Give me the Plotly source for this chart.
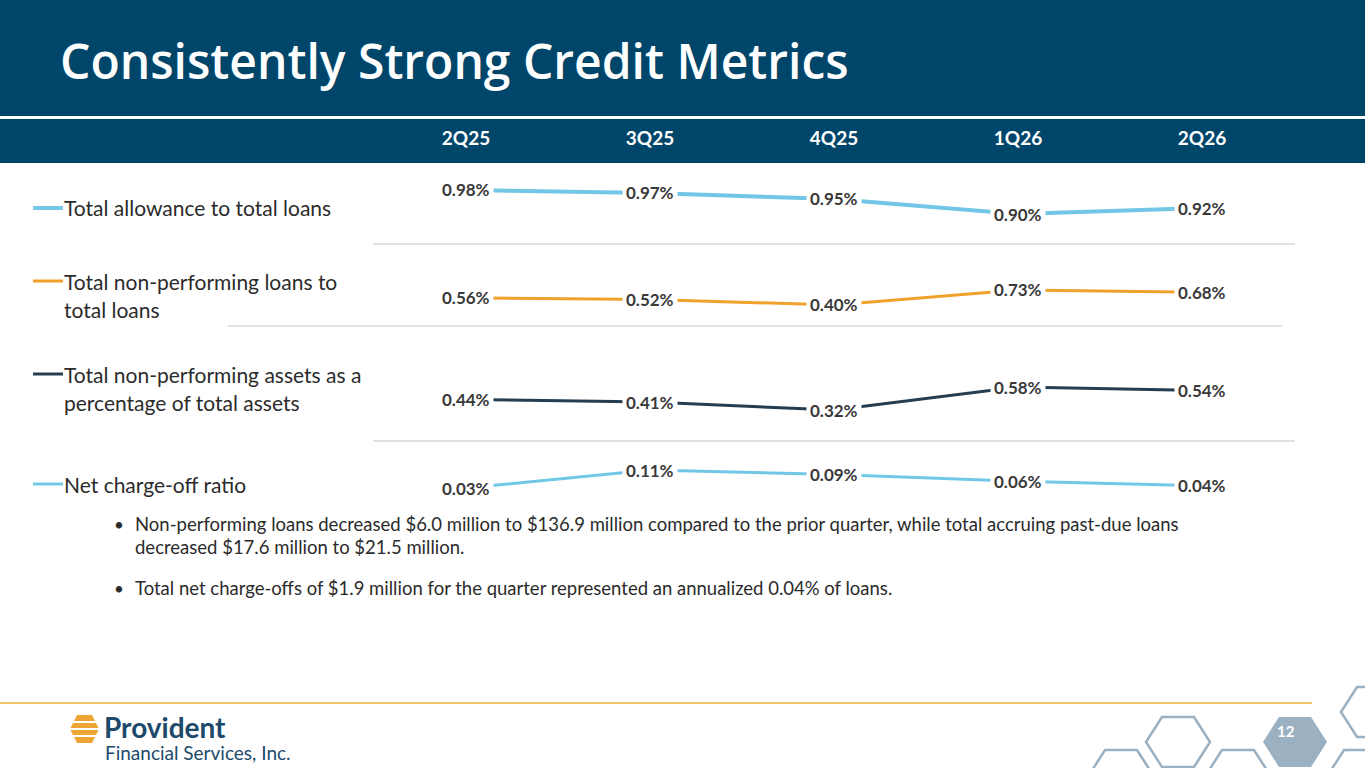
import plotly.graph_objects as go

W, H = 1365, 768

quarters = ["2Q25", "3Q25", "4Q25", "1Q26", "2Q26"]

allowance_ratio = [0.98, 0.97, 0.95, 0.90, 0.92]
npl_ratio = [0.56, 0.52, 0.40, 0.73, 0.68]
npa_ratio = [0.44, 0.41, 0.32, 0.58, 0.54]
nco_ratio = [0.03, 0.11, 0.09, 0.06, 0.04]

legend_lines = [
    ["Total allowance to total loans"],
    ["Total non-performing loans to", "total loans"],
    ["Total non-performing assets as a", "percentage of total assets"],
    ["Net charge-off ratio"],
]

bullets = [
    ["Non-performing loans decreased $6.0 million to $136.9 million compared to the prior quarter, while total accruing past-due loans",
     "decreased $17.6 million to $21.5 million."],
    ["Total net charge-offs of $1.9 million for the quarter represented an annualized 0.04% of loans."],
]

NAVY = "#00466b"
LIGHT_BLUE = "#72c7e7"
ORANGE = "#f0a12c"
DARK = "#243d50"
TEXT = "#2b2b2b"
HEX = "#9bb0c1"
FONT = "Lato"


def px(x):
    return x / W


def py(y):
    return 1 - y / H


# (values, colour, line width, band top px, band bottom px, y range, legend y px)
series = [
    (allowance_ratio, LIGHT_BLUE, 4, 165, 244, [0.80, 1.0633], 208),
    (npl_ratio, ORANGE, 3, 244, 326, [-0.062, 1.742], 281),
    (npa_ratio, DARK, 3, 326, 441, [-0.030, 1.269], 374),
    (nco_ratio, LIGHT_BLUE, 3, 441, 505, [-0.0456, 0.239], 484),
]

fig = go.Figure()
layout = {}
annotations = []
shapes = []

for i, (vals, color, lw, top, bottom, rng, ly) in enumerate(series):
    yname = "y" if i == 0 else f"y{i + 1}"
    fig.add_trace(go.Scatter(
        x=quarters, y=vals, xaxis="x", yaxis=yname, mode="lines",
        line=dict(color=color, width=lw), hoverinfo="skip",
    ))
    layout["yaxis" if i == 0 else f"yaxis{i + 1}"] = dict(
        domain=[py(bottom), py(top)], range=rng, visible=False,
        anchor="x", fixedrange=True,
    )
    for q, v in zip(quarters, vals):
        annotations.append(dict(
            x=q, y=v, xref="x", yref=yname, text=f"<b>{v:.2f}%</b>",
            showarrow=False, bgcolor="white", borderpad=3,
            font=dict(family=FONT, size=17, color="#3a3a3a"),
        ))
    # legend swatch + text
    shapes.append(dict(type="line", xref="paper", yref="paper",
                       x0=px(33), x1=px(63), y0=py(ly), y1=py(ly),
                       line=dict(color=color, width=lw)))
    for k, t in enumerate(legend_lines[i]):
        annotations.append(dict(
            x=px(62), y=py(ly + 28 * k), xref="paper", yref="paper",
            text=t, showarrow=False, xanchor="left", yanchor="middle",
            font=dict(family=FONT, size=21, color=TEXT),
        ))

# separators between rows
for y0, xa, xb in [(244, 373, 1295), (326, 228, 1282), (441, 373, 1295)]:
    shapes.append(dict(type="line", xref="paper", yref="paper",
                       x0=px(xa), x1=px(xb), y0=py(y0), y1=py(y0),
                       line=dict(color="#d9d9d9", width=1.5)))

# header bands
shapes.append(dict(type="rect", xref="paper", yref="paper", x0=0, x1=1,
                   y0=py(116), y1=1, fillcolor=NAVY, line_width=0, layer="below"))
shapes.append(dict(type="rect", xref="paper", yref="paper", x0=0, x1=1,
                   y0=py(163), y1=py(119), fillcolor=NAVY, line_width=0, layer="below"))

annotations.append(dict(
    x=px(58), y=py(60), xref="paper", yref="paper",
    text="Consistently Strong Credit Metrics", showarrow=False,
    xanchor="left", yanchor="middle",
    font=dict(family="Open Sans", size=48, color="white", weight=600),
))

# bullets
by = 524
for group in bullets:
    annotations.append(dict(x=px(112), y=py(by), xref="paper", yref="paper",
                            text="•", showarrow=False, xanchor="left", yanchor="middle",
                            font=dict(family=FONT, size=17, color=TEXT)))
    for k, line in enumerate(group):
        annotations.append(dict(x=px(133), y=py(by + 23 * k), xref="paper", yref="paper",
                                text=line, showarrow=False, xanchor="left", yanchor="middle",
                                font=dict(family=FONT, size=18.5, color=TEXT)))
    by += 23 * len(group) + 18

# footer rule
shapes.append(dict(type="line", xref="paper", yref="paper", x0=0, x1=px(1312),
                   y0=py(703), y1=py(703), line=dict(color="#f0c36c", width=2)))

# logo icon
shapes.append(dict(type="path", xref="paper", yref="paper",
                   path=" ".join([
                       f"M {px(70)} {py(729)}", f"L {px(77)} {py(715)}", f"L {px(92)} {py(715)}",
                       f"L {px(99)} {py(729)}", f"L {px(92)} {py(743)}", f"L {px(77)} {py(743)} Z"]),
                   fillcolor="#eea534", line_width=0))
for yy in (722, 729, 736):
    shapes.append(dict(type="line", xref="paper", yref="paper", x0=px(68), x1=px(101),
                       y0=py(yy), y1=py(yy), line=dict(color="white", width=2)))
annotations.append(dict(x=px(102), y=py(727), xref="paper", yref="paper", text="<b>Provident</b>",
                        showarrow=False, xanchor="left", yanchor="middle",
                        font=dict(family=FONT, size=28, color="#1d4a6b")))
annotations.append(dict(x=px(103), y=py(752), xref="paper", yref="paper",
                        text="Financial Services, Inc.", showarrow=False,
                        xanchor="left", yanchor="middle",
                        font=dict(family=FONT, size=19, color="#1d4a6b")))


# honeycomb decoration
def hexagon(cx, cy, r=32, h=25, filled=False):
    pts = [(cx - r, cy), (cx - r / 2, cy - h), (cx + r / 2, cy - h),
           (cx + r, cy), (cx + r / 2, cy + h), (cx - r / 2, cy + h)]
    path = "M " + " L ".join(f"{px(a)} {py(b)}" for a, b in pts) + " Z"
    return dict(type="path", xref="paper", yref="paper", path=path,
                fillcolor=HEX if filled else "rgba(0,0,0,0)",
                line=dict(color=HEX, width=0 if filled else 2.5))


for cx, cy in [(1373, 712), (1178, 742), (1121, 775), (1238, 775), (1360, 775)]:
    shapes.append(hexagon(cx, cy))
shapes.append(hexagon(1295, 742, filled=True))
annotations.append(dict(x=px(1297), y=py(742), xref="paper", yref="paper", text="<b>12</b>",
                        showarrow=False, font=dict(family=FONT, size=15, color="white")))

fig.update_layout(
    width=W, height=H, margin=dict(l=0, r=0, t=0, b=0),
    paper_bgcolor="white", plot_bgcolor="white", showlegend=False,
    xaxis=dict(type="category", domain=[px(374), px(1294)], range=[-0.5, 4.5],
               anchor="free", position=py(149), side="top", showgrid=False,
               showline=False, zeroline=False, ticks="", fixedrange=True,
               tickfont=dict(family=FONT, size=19, color="white", weight="bold")),
    annotations=annotations, shapes=shapes,
    **layout,
)

fig.write_html("out.html", config={"displayModeBar": False},
               post_script="document.body.style.margin='0';document.body.style.overflow='hidden';")
